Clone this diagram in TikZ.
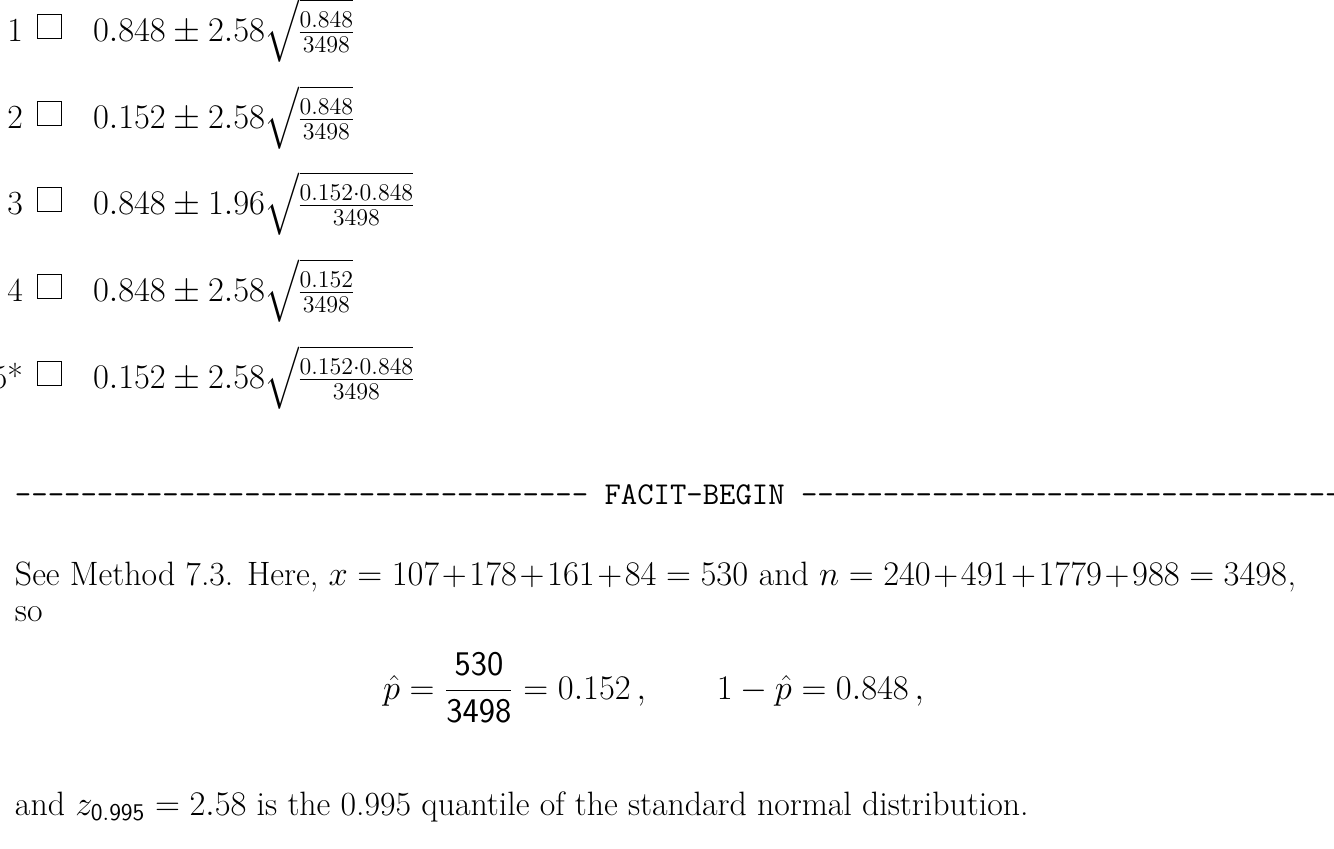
\documentclass[tikz,border=0pt]{standalone}
\usepackage{amsmath}
\begin{document}
\begin{tikzpicture}[x=0.5pt,y=-0.5pt,
  txt/.style={inner sep=0pt,outer sep=0pt,font=\fontsize{16.9}{20}\selectfont},
  lbl/.style={txt,anchor=base east},
  expr/.style={txt,anchor=base west},
  chk/.style={draw,line width=0.65pt,inner sep=0pt,minimum size=12pt,anchor=south west}]
\useasboundingbox (0,0) rectangle (1334,848);
% rows
\foreach \i/\lab/\e/\b in {
  1/{1}/{0.848\pm2.58\sqrt{\frac{0.848}{3498}}}/41,
  2/{2}/{0.152\pm2.58\sqrt{\frac{0.848}{3498}}}/128,
  3/{3}/{0.848\pm1.96\sqrt{\frac{0.152\cdot0.848}{3498}}}/214,
  4/{4}/{0.848\pm2.58\sqrt{\frac{0.152}{3498}}}/301,
  5/{5*}/{0.152\pm2.58\sqrt{\frac{0.152\cdot0.848}{3498}}}/388}{
  \node[lbl] (l\i) at (23,\b) {\lab};
  \node[chk] (c\i) at (37,\b-2) {};
  \node[expr] (e\i) at (93,\b) {$\nulldelimiterspace=0pt\relax \e$};
}
\node[expr,font=\fontsize{15.9}{20}\selectfont\ttfamily] (facit) at (15,504) {-----------------------------------\ FACIT-BEGIN\ ----------------------------------------};
\node[expr] (see) at (15,585) {See Method 7.3. Here, $\medmuskip=1.4mu\relax x=107+178+161+84=530$ and $\medmuskip=1.4mu\relax n=240+491+1779+988=3498$,};
\node[expr] (so) at (15,621) {so};
\node[txt,anchor=center,font=\fontsize{16.3}{20}\selectfont] (disp) at (653.5,688) {$\displaystyle \hat p=\frac{\mathsf{530}}{\mathsf{3498}}=0.152\,,\qquad 1-\hat p=0.848\,,$};
\node[expr] (last) at (15,815) {and $z_{\mathsf{0.995}}=2.58$ is the 0.995 quantile of the standard normal distribution.};
\end{tikzpicture}
\end{document}
